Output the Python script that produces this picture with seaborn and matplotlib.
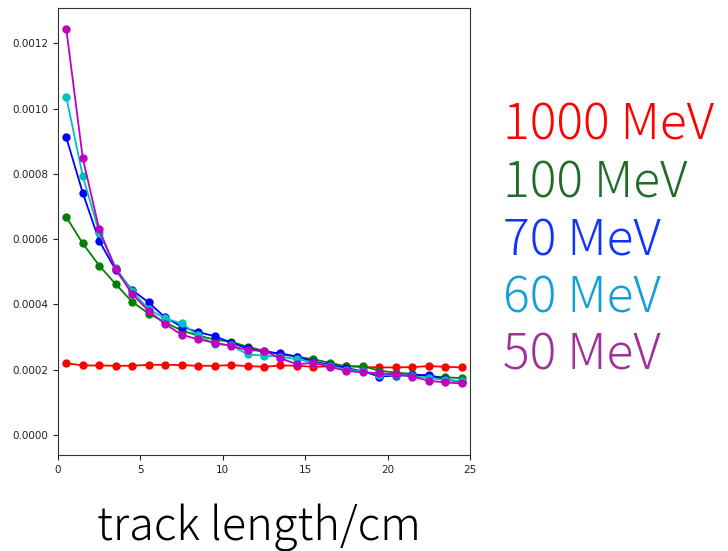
import matplotlib
matplotlib.use('Agg')
import matplotlib.pyplot as plt
import pandas as pd
import seaborn as sns

track_length = [0.5 + i for i in range(25)]

e1000 = [0.000220, 0.000213, 0.000213, 0.000212, 0.000212, 0.000215, 0.000215, 0.000214,
         0.000212, 0.000212, 0.000214, 0.000211, 0.000209, 0.000213, 0.000212, 0.000209,
         0.000210, 0.000211, 0.000208, 0.000207, 0.000207, 0.000208, 0.000211, 0.000209,
         0.000207]
e100 = [0.000668, 0.000587, 0.000519, 0.000462, 0.000408, 0.000372, 0.000345, 0.000320,
        0.000305, 0.000292, 0.000286, 0.000270, 0.000258, 0.000247, 0.000240, 0.000232,
        0.000221, 0.000210, 0.000211, 0.000197, 0.000191, 0.000187, 0.000180, 0.000177,
        0.000174]
e70 = [0.000912, 0.000742, 0.000595, 0.000505, 0.000444, 0.000406, 0.000360, 0.000332,
       0.000315, 0.000303, 0.000283, 0.000265, 0.000255, 0.000250, 0.000240, 0.000225,
       0.000215, 0.000205, 0.000195, 0.000179, 0.000182, 0.000183, 0.000184, 0.000170,
       0.000163]
e60 = [0.001036, 0.000794, 0.000620, 0.000513, 0.000440, 0.000385, 0.000357, 0.000342,
       0.000305, 0.000278, 0.000275, 0.000247, 0.000243, 0.000240, 0.000232, 0.000222,
       0.000212, 0.000200, 0.000195, 0.000185, 0.000184, 0.000180, 0.000175, 0.000168,
       0.000165]
e50 = [0.001245, 0.000849, 0.000630, 0.000508, 0.000432, 0.000380, 0.000340, 0.000307,
       0.000293, 0.000283, 0.000273, 0.000260, 0.000258, 0.000235, 0.000217, 0.000221,
       0.000209, 0.000196, 0.000192, 0.000189, 0.000186, 0.000179, 0.000166, 0.000161,
       0.000158]

labels = ['1000 MeV', '100 MeV', '70 MeV', '60 MeV', '50 MeV']
line_colors = ['r', 'g', 'b', 'c', 'm']
text_colors = ['#ff0000', '#1e6e2a', '#1033ff', '#14a0d6', '#a0309a']

series = [e1000, e100, e70, e60, e50]

sns.set_style('ticks')
plt.rcParams['font.family'] = ['DejaVu Sans']

fig = plt.figure(figsize=(7.28, 5.51), dpi=100)
ax = fig.add_axes([58 / 728, 1 - 455 / 551, 412 / 728, 447 / 551])

for vals, col in zip(series, line_colors):
    df = pd.DataFrame({'x': track_length, 'y': vals})
    sns.lineplot(data=df, x='x', y='y', color=col, marker='o', markersize=6,
                 markeredgewidth=0, linewidth=1.3, ax=ax)

ax.set_xlim(0, 25)
ax.set_ylim(-0.0000613, 0.001308)
ax.set_yticks([0, 0.0002, 0.0004, 0.0006, 0.0008, 0.0010, 0.0012])
ax.set_yticklabels(['0.0000', '0.0002', '0.0004', '0.0006', '0.0008', '0.0010', '0.0012'])
ax.set_xticks([0, 5, 10, 15, 20, 25])
ax.tick_params(labelsize=7.5, length=3.5, width=0.8, colors='#222222')
ax.set_xlabel('')
ax.set_ylabel('')
for sp in ax.spines.values():
    sp.set_visible(True)
    sp.set_linewidth(0.8)
    sp.set_color('#333333')

# legend drawn as big coloured text, like the slide it came from
jp = ['Noto Sans CJK JP', 'DejaVu Sans']
for i, (lab, tc) in enumerate(zip(labels, text_colors)):
    fig.text(503 / 728, 1 - (140 + 57.5 * i) / 551, lab, color=tc, fontsize=36,
             family=jp, weight='light', ha='left', va='baseline')

fig.text(97 / 728, 1 - 540 / 551, 'track length/cm', color='black', fontsize=32.5,
         family=jp, weight='light', ha='left', va='baseline')

fig.savefig('out.png', dpi=100)
